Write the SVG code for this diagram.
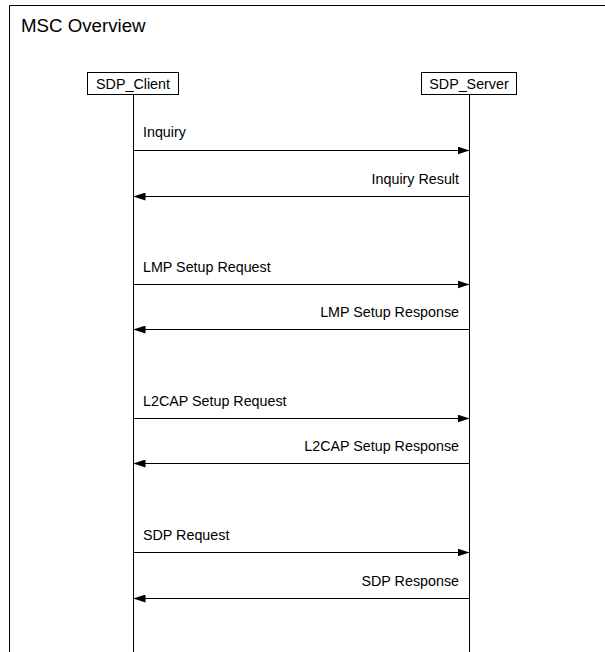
<svg xmlns="http://www.w3.org/2000/svg" width="605" height="652" viewBox="0 0 605 652">
<style>
text{font-family:"Liberation Sans",Arial,sans-serif;fill:#000}
.lbl{font-size:14.3px}
.head{font-size:14.3px}
.box{fill:#fff;stroke:#000;stroke-width:1}
.life{stroke:#000;stroke-width:1}
.msg{stroke:#000;stroke-width:1;fill:none}
</style>
<defs>
<marker id="ah" viewBox="0 0 12 8" refX="12" refY="4" markerWidth="12" markerHeight="8" markerUnits="userSpaceOnUse" orient="auto">
<path d="M0,0 L12,4 L0,8 Z" fill="#000"/>
</marker>
</defs>
<rect width="605" height="652" fill="#fff"/>
<g id="frame">
<path d="M9.5,652 V5.5 H605" fill="none" stroke="#000" stroke-width="1"/>
<text x="21" y="32" font-size="18.7">MSC Overview</text>
</g>
<g id="client">
<line class="life" x1="133.5" y1="95" x2="133.5" y2="652"/>
<rect class="box" x="87.5" y="72.5" width="91" height="22"/>
<text class="head" x="133" y="88.5" text-anchor="middle">SDP_Client</text>
</g>
<g id="server">
<line class="life" x1="469.5" y1="95" x2="469.5" y2="652"/>
<rect class="box" x="421.5" y="72.5" width="95" height="22"/>
<text class="head" x="469" y="88.5" text-anchor="middle">SDP_Server</text>
</g>
<g id="connectors">
<line class="msg" x1="133.5" y1="150.5" x2="469.5" y2="150.5" marker-end="url(#ah)"/>
<text class="lbl" x="143" y="137">Inquiry</text>
<line class="msg" x1="469.5" y1="196.5" x2="133.5" y2="196.5" marker-end="url(#ah)"/>
<text class="lbl" x="459" y="184" text-anchor="end">Inquiry Result</text>
<line class="msg" x1="133.5" y1="284.5" x2="469.5" y2="284.5" marker-end="url(#ah)"/>
<text class="lbl" x="143" y="272">LMP Setup Request</text>
<line class="msg" x1="469.5" y1="329.5" x2="133.5" y2="329.5" marker-end="url(#ah)"/>
<text class="lbl" x="459" y="317" text-anchor="end">LMP Setup Response</text>
<line class="msg" x1="133.5" y1="418.5" x2="469.5" y2="418.5" marker-end="url(#ah)"/>
<text class="lbl" x="143" y="406">L2CAP Setup Request</text>
<line class="msg" x1="469.5" y1="463.5" x2="133.5" y2="463.5" marker-end="url(#ah)"/>
<text class="lbl" x="459" y="451" text-anchor="end">L2CAP Setup Response</text>
<line class="msg" x1="133.5" y1="552.5" x2="469.5" y2="552.5" marker-end="url(#ah)"/>
<text class="lbl" x="143" y="540">SDP Request</text>
<line class="msg" x1="469.5" y1="598.5" x2="133.5" y2="598.5" marker-end="url(#ah)"/>
<text class="lbl" x="459" y="586" text-anchor="end">SDP Response</text>
</g>
</svg>
